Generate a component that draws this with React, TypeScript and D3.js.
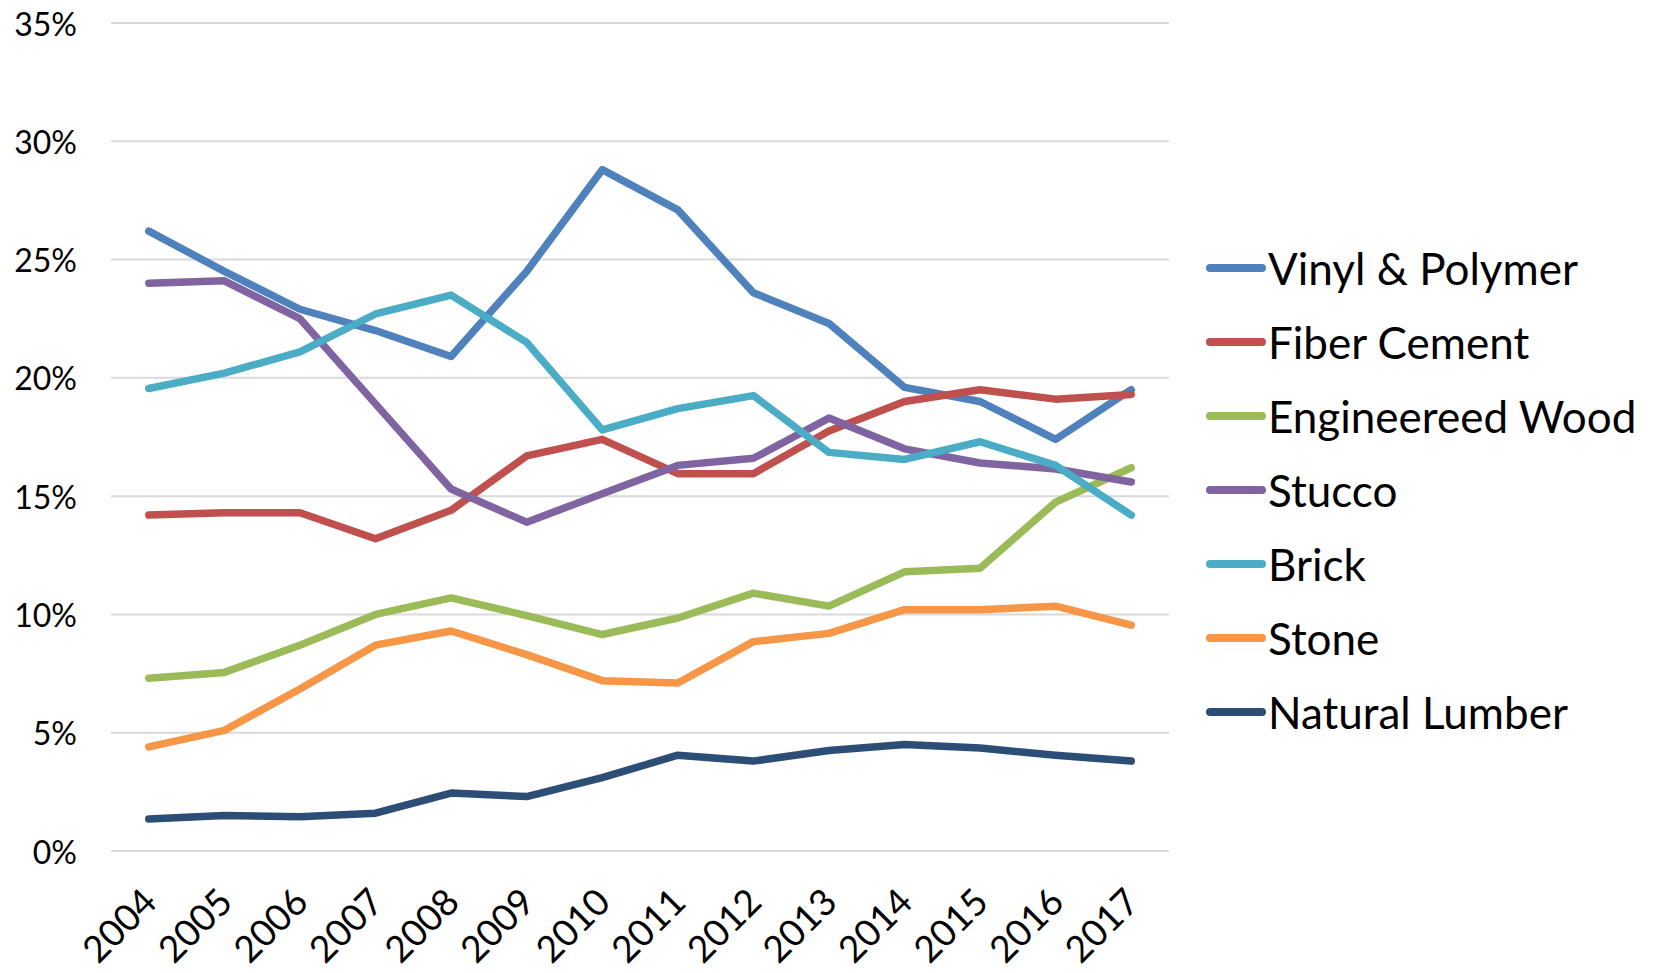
import * as d3 from 'd3';

const years = ['2004', '2005', '2006', '2007', '2008', '2009', '2010', '2011', '2012', '2013', '2014', '2015', '2016', '2017'];

const vinylPolymer = [26.2, 24.5, 22.9, 22.0, 20.9, 24.5, 28.8, 27.1, 23.6, 22.3, 19.6, 19.0, 17.4, 19.5];
const fiberCement = [14.2, 14.3, 14.3, 13.2, 14.4, 16.7, 17.4, 15.95, 15.95, 17.75, 19.0, 19.5, 19.1, 19.3];
const engineeredWood = [7.3, 7.55, 8.7, 10.0, 10.7, 9.95, 9.15, 9.85, 10.9, 10.35, 11.8, 11.95, 14.75, 16.2];
const stucco = [24.0, 24.1, 22.5, 18.9, 15.3, 13.9, 15.1, 16.3, 16.6, 18.3, 17.0, 16.4, 16.15, 15.6];
const brick = [19.55, 20.2, 21.1, 22.7, 23.5, 21.5, 17.8, 18.7, 19.25, 16.85, 16.55, 17.3, 16.3, 14.2];
const stone = [4.4, 5.1, 6.85, 8.7, 9.3, 8.3, 7.2, 7.1, 8.85, 9.2, 10.2, 10.2, 10.35, 9.55];
const naturalLumber = [1.35, 1.5, 1.45, 1.6, 2.45, 2.3, 3.1, 4.05, 3.8, 4.25, 4.5, 4.35, 4.05, 3.8];

const seriesNames = ['Vinyl & Polymer', 'Fiber Cement', 'Engineereed Wood', 'Stucco', 'Brick', 'Stone', 'Natural Lumber'];
const seriesValues = [vinylPolymer, fiberCement, engineeredWood, stucco, brick, stone, naturalLumber];
const seriesColors = ['#4F81BD', '#C0504D', '#9BBB59', '#8064A2', '#4BACC6', '#F79646', '#2C4D75'];

const yTicks = [0, 5, 10, 15, 20, 25, 30, 35];

const W = 1654;
const H = 973;
const FONT = 'Lato, "Open Sans", sans-serif';

export default function App() {
  // category axis, points in the middle of each band (Excel style)
  const x = d3.scaleBand<string>().domain(years).range([111, 1169]).paddingInner(0).paddingOuter(0);
  const xc = (yr: string) => (x(yr) ?? 0) + x.bandwidth() / 2;
  const y = d3.scaleLinear().domain([0, 35]).range([851, 23]);

  const line = d3.line<number>()
    .x((_, i) => xc(years[i]))
    .y(d => y(d));

  const legendX = 1210;
  const legendTop = 268;
  const legendStep = 74;

  return (
    <svg width={W} height={H} style={{ position: 'absolute', left: 0, top: 0, display: 'block', background: '#fff' }}>
      {/* gridlines */}
      <g>
        {yTicks.map(t => (
          <line key={t} x1={111} x2={1169} y1={y(t)} y2={y(t)} stroke="#D9D9D9" strokeWidth={2} />
        ))}
      </g>

      {/* y labels */}
      <g fontFamily={FONT} fontSize={32} fill="#000">
        {yTicks.map(t => (
          <text key={t} x={77} y={y(t)} textAnchor="end" dominantBaseline="central">{t}%</text>
        ))}
      </g>

      {/* x labels */}
      <g fontFamily={FONT} fontSize={37} fill="#000">
        {years.map(yr => (
          <text key={yr} textAnchor="end" dominantBaseline="central"
            transform={`translate(${xc(yr)},${894}) rotate(-45)`}>{yr}</text>
        ))}
      </g>

      {/* series */}
      <g fill="none" strokeWidth={7.5} strokeLinejoin="round" strokeLinecap="round">
        {seriesValues.map((vals, i) => (
          <path key={seriesNames[i]} d={line(vals) ?? ''} stroke={seriesColors[i]} />
        ))}
      </g>

      {/* legend */}
      <g fontFamily={FONT} fontSize={44} fill="#000">
        {seriesNames.map((name, i) => {
          const ly = legendTop + i * legendStep;
          return (
            <g key={name}>
              <line x1={legendX} x2={legendX + 52} y1={ly} y2={ly} stroke={seriesColors[i]} strokeWidth={8} strokeLinecap="round" />
              <text x={legendX + 58} y={ly} dominantBaseline="central">{name}</text>
            </g>
          );
        })}
      </g>
    </svg>
  );
}
